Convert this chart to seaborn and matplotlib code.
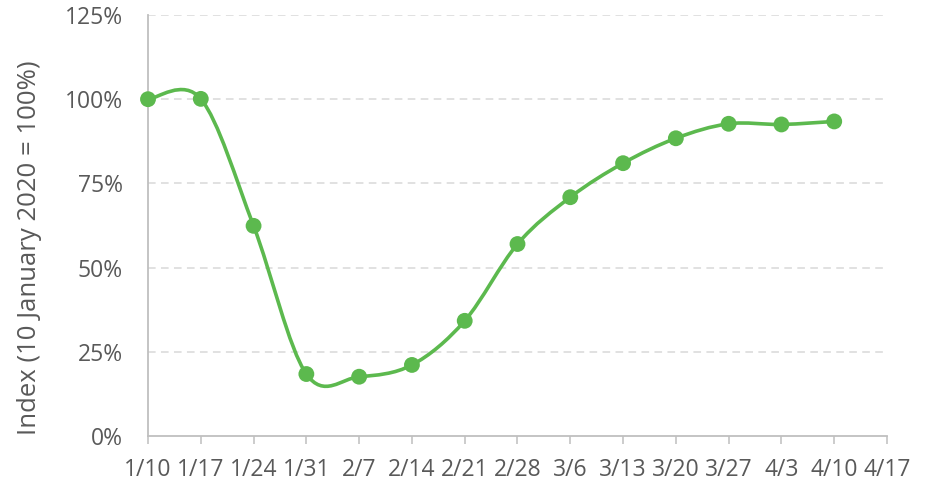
import numpy as np
import pandas as pd
import matplotlib
matplotlib.use("Agg")
import matplotlib.pyplot as plt
from matplotlib.path import Path
from matplotlib.patches import PathPatch
import seaborn as sns

# ---- data ----
dates = ["1/10", "1/17", "1/24", "1/31", "2/7", "2/14", "2/21", "2/28",
         "3/6", "3/13", "3/20", "3/27", "4/3", "4/10"]
tick_labels = dates + ["4/17"]
index_pct = [100.0, 100.1, 62.4, 18.4, 17.6, 21.1, 34.2, 57.0,
             70.9, 81.0, 88.4, 92.7, 92.5, 93.4]
y_ticks = [0, 25, 50, 75, 100, 125]

sns.set_theme(style="white")
plt.rcParams['font.family'] = ['Open Sans', 'DejaVu Sans']

GREEN = "#5cb94e"
TEXT = "#595959"

fig = plt.figure(figsize=(9.29, 4.84), dpi=100)
ax = fig.add_axes([148/929, 1-436/484, (887-148)/929, (436-15)/484])

df = pd.DataFrame({"x": np.arange(len(dates)), "y": index_pct})

# smoothed line (Excel-style cubic Bezier through the points)
xs = df["x"].to_numpy(float)
ys = df["y"].to_numpy(float)
n = len(xs)
verts = [(xs[0], ys[0])]
codes = [Path.MOVETO]
for i in range(n - 1):
    p0 = np.array([xs[max(i-1, 0)], ys[max(i-1, 0)]])
    p1 = np.array([xs[i], ys[i]])
    p2 = np.array([xs[i+1], ys[i+1]])
    p3 = np.array([xs[min(i+2, n-1)], ys[min(i+2, n-1)]])
    c1 = p1 + (p2 - p0) / 6.0
    c2 = p2 - (p3 - p1) / 6.0
    verts += [tuple(c1), tuple(c2), tuple(p2)]
    codes += [Path.CURVE4] * 3
ax.add_patch(PathPatch(Path(verts, codes), facecolor="none", edgecolor=GREEN,
                       lw=2.6, capstyle="round", joinstyle="round", zorder=3))

sns.scatterplot(data=df, x="x", y="y", ax=ax, color=GREEN, s=130,
                edgecolor="none", zorder=4, clip_on=False)

ax.set_xlim(0, len(tick_labels) - 1)
ax.set_ylim(0, 125)
ax.set_xticks(range(len(tick_labels)))
ax.set_xticklabels(tick_labels)
ax.set_yticks(y_ticks)
ax.set_yticklabels([f"{v}%" for v in y_ticks])

for v in y_ticks[1:]:
    ax.axhline(v, color="#d9d9d9", lw=1.1, ls=(0, (5, 3.5)), zorder=1)

for s in ["top", "right"]:
    ax.spines[s].set_visible(False)
for s in ["left", "bottom"]:
    ax.spines[s].set_color("#bfbfbf")
    ax.spines[s].set_linewidth(1.3)

ax.tick_params(axis="x", which="both", bottom=True, length=6, width=1.1,
               color="#bfbfbf", pad=10, labelsize=16.5, labelcolor=TEXT)
ax.tick_params(axis="y", length=0, pad=18, labelsize=16.5, labelcolor=TEXT)

ax.set_xlabel("")
ax.set_ylabel("Index (10 January 2020 = 100%)", fontsize=18.5, color=TEXT)
ax.yaxis.set_label_coords(-0.1434, 0.447)

fig.savefig("out.png", dpi=100)
